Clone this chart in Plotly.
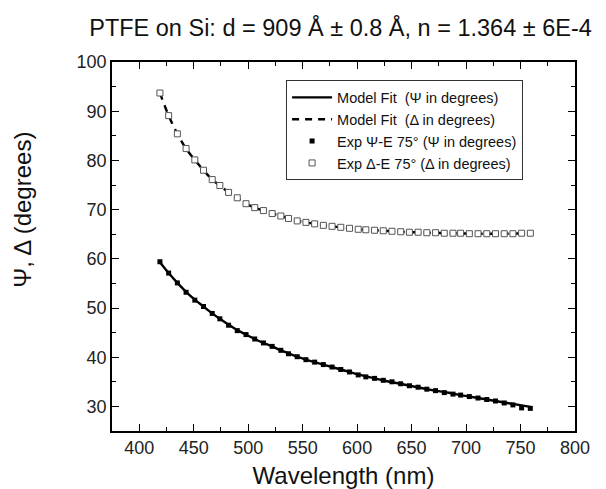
import plotly.graph_objects as go

wavelength = [419, 427, 435, 443, 451, 459, 467, 474, 482, 490,
              498, 506, 514, 522, 530, 537, 545, 553, 561, 569,
              577, 585, 593, 601, 608, 616, 624, 632, 640, 648,
              656, 664, 672, 680, 688, 695, 703, 711, 719, 727,
              735, 743, 751, 759]

psi_exp = [59.4, 57.1, 55.1, 53.2, 51.6, 50.3, 48.9, 47.8, 46.5, 45.4,
           44.6, 43.7, 42.9, 42.2, 41.4, 40.7, 40.1, 39.5, 39.0, 38.5,
           38.0, 37.5, 37.0, 36.4, 36.0, 35.7, 35.3, 35.0, 34.6, 34.2,
           33.9, 33.5, 33.2, 32.8, 32.5, 32.3, 32.0, 31.7, 31.4, 31.1,
           30.7, 30.3, 29.7, 29.6]

psi_fit = [59.3, 57.1, 55.1, 53.3, 51.7, 50.3, 48.9, 47.8, 46.6, 45.5,
           44.6, 43.7, 42.9, 42.2, 41.4, 40.8, 40.1, 39.5, 39.0, 38.5,
           38.0, 37.5, 37.0, 36.5, 36.1, 35.7, 35.3, 34.9, 34.6, 34.2,
           33.9, 33.5, 33.2, 32.9, 32.6, 32.3, 32.0, 31.7, 31.4, 31.1,
           30.8, 30.5, 30.2, 29.9]

delta_exp = [93.7, 89.1, 85.4, 82.4, 80.1, 78.0, 76.1, 74.9, 73.5, 72.4,
             71.2, 70.4, 69.8, 69.2, 68.7, 68.2, 67.7, 67.4, 67.1, 66.8,
             66.6, 66.4, 66.2, 66.0, 65.9, 65.8, 65.7, 65.6, 65.5, 65.4,
             65.4, 65.3, 65.3, 65.2, 65.2, 65.2, 65.1, 65.1, 65.1, 65.1,
             65.1, 65.1, 65.2, 65.2]

delta_fit = delta_exp

names = ["Model Fit  (\u03a8 in degrees)",
         "Model Fit  (\u0394 in degrees)",
         "Exp \u03a8-E 75\u00b0 (\u03a8 in degrees)",
         "Exp \u0394-E 75\u00b0 (\u0394 in degrees)"]

title_text = "PTFE on Si: d = 909 \u00c5 \u00b1 0.8 \u00c5, n = 1.364 \u00b1 6E-4"
x_title = "Wavelength (nm)"
y_title = "\u03a8, \u0394 (degrees)"

FONT = "Liberation Sans, Arial"

fig = go.Figure()
fig.add_trace(go.Scatter(x=wavelength, y=psi_fit, mode="lines", name=names[0],
                         line=dict(color="black", width=2.4), line_shape="spline"))
fig.add_trace(go.Scatter(x=wavelength, y=delta_fit, mode="lines", name=names[1],
                         line=dict(color="black", width=2.4, dash="7px,6px"), line_shape="spline"))
fig.add_trace(go.Scatter(x=wavelength, y=psi_exp, mode="markers", name=names[2],
                         marker=dict(symbol="square", size=5, color="black")))
fig.add_trace(go.Scatter(x=wavelength, y=delta_exp, mode="markers", name=names[3],
                         marker=dict(symbol="square", size=6, color="white",
                                     line=dict(color="#555555", width=1))))

axis_common = dict(showline=True, linecolor="black", linewidth=1.5, mirror="ticks",
                   ticks="inside", ticklen=7, tickwidth=1.3, tickcolor="black",
                   showgrid=False, zeroline=False,
                   tickfont=dict(family=FONT, size=18, color="#222"))

fig.update_xaxes(range=[375, 800], dtick=50, tick0=0,
                 minor=dict(ticks="inside", dtick=25, tick0=0, ticklen=4, tickcolor="black"),
                 title=dict(text=x_title, font=dict(family=FONT, size=24, color="#111"),
                            standoff=10),
                 **axis_common)
fig.update_yaxes(range=[25, 100], dtick=10, tick0=0,
                 minor=dict(ticks="inside", dtick=5, tick0=0, ticklen=4, tickcolor="black"),
                 **axis_common)

fig.add_annotation(text=y_title, textangle=-90, xref="paper", yref="paper",
                   x=-0.194, y=0.6, xanchor="center", yanchor="middle",
                   showarrow=False, font=dict(family=FONT, size=24, color="#111"))

fig.update_layout(
    width=606, height=489,
    margin=dict(l=104, r=39, t=54, b=64),
    paper_bgcolor="white", plot_bgcolor="white",
    title=dict(text=title_text, x=0.134, xanchor="left", y=0.96, yanchor="middle",
               font=dict(family=FONT, size=23.5, color="#111")),
    legend=dict(x=0.376, y=0.95, xanchor="left", yanchor="top",
                bordercolor="#333", borderwidth=1, bgcolor="white",
                font=dict(family=FONT, size=14.5, color="#111"),
                tracegroupgap=0, itemwidth=40),
    showlegend=True,
)

fig.write_html("out.html")
